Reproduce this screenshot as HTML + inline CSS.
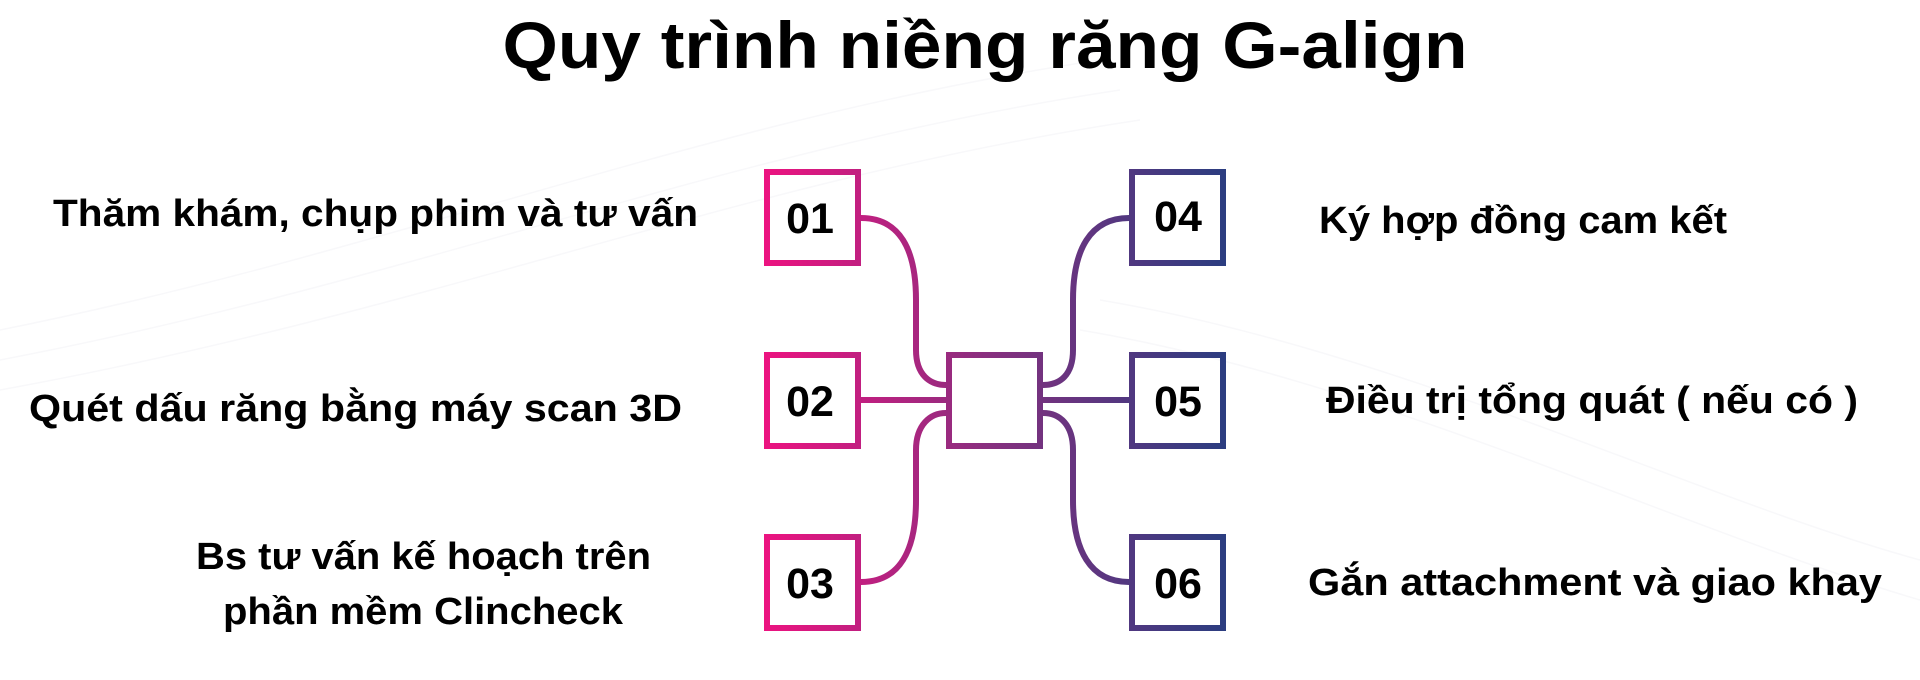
<!DOCTYPE html>
<html><head><meta charset="utf-8"><style>
html,body{margin:0;padding:0;background:#fff;}
svg{display:block;}
text{font-family:"Liberation Sans",sans-serif;font-weight:bold;fill:#000;}
</style></head><body>
<svg width="1920" height="680" viewBox="0 0 1920 680" xmlns="http://www.w3.org/2000/svg">
<defs>
<linearGradient id="g" gradientUnits="userSpaceOnUse" x1="764" y1="0" x2="1226" y2="0">
<stop offset="0" stop-color="#ec1380"/>
<stop offset="0.5" stop-color="#85307f"/>
<stop offset="1" stop-color="#2b3d80"/>
</linearGradient>
</defs>
<g fill="none" stroke="#f8f8fa" stroke-width="1.5">
<path d="M0 330 C400 250 700 120 1100 60"/>
<path d="M0 360 C420 280 720 150 1120 90"/>
<path d="M0 390 C440 310 740 180 1140 120"/>
<path d="M1100 300 C1400 350 1700 500 1920 560"/>
<path d="M1080 330 C1380 380 1680 530 1920 600"/>
</g>
<text x="985" y="68" font-size="66" text-anchor="middle" textLength="965" lengthAdjust="spacingAndGlyphs">Quy trình niềng răng G-align</text>

<g fill="none" stroke="url(#g)" stroke-width="6">
<rect x="767" y="172" width="91" height="91"/>
<rect x="767" y="355" width="91" height="91"/>
<rect x="767" y="537" width="91" height="91"/>
<rect x="949" y="355" width="91" height="91"/>
<rect x="1132" y="172" width="91" height="91"/>
<rect x="1132" y="355" width="91" height="91"/>
<rect x="1132" y="537" width="91" height="91"/>
<path d="M861 218 C900 218 916 250 916 300 L916 350 C916 375 930 385 946 385"/>
<path d="M861 400 L946 400"/>
<path d="M946 413 C930 413 916 425 916 450 L916 500 C916 550 900 582 861 582"/>
<path d="M1129 218 C1090 218 1073 250 1073 300 L1073 350 C1073 375 1060 385 1043 385"/>
<path d="M1043 400 L1129 400"/>
<path d="M1043 413 C1060 413 1073 425 1073 450 L1073 500 C1073 550 1090 582 1129 582"/>
</g>

<g font-size="43" text-anchor="middle">
<text x="810" y="233">01</text>
<text x="810" y="416">02</text>
<text x="810" y="598">03</text>
<text x="1178" y="231">04</text>
<text x="1178" y="416">05</text>
<text x="1178" y="598">06</text>
</g>

<g font-size="38">
<text x="53" y="226" textLength="645" lengthAdjust="spacingAndGlyphs">Thăm khám, chụp phim và tư vấn</text>
<text x="29" y="421" textLength="653" lengthAdjust="spacingAndGlyphs">Quét dấu răng bằng máy scan 3D</text>
<text x="196" y="569" textLength="455" lengthAdjust="spacingAndGlyphs">Bs tư vấn kế hoạch trên</text>
<text x="223" y="624" textLength="400" lengthAdjust="spacingAndGlyphs">phần mềm Clincheck</text>
<text x="1319" y="233" textLength="408" lengthAdjust="spacingAndGlyphs">Ký hợp đồng cam kết</text>
<text x="1326" y="413" textLength="532" lengthAdjust="spacingAndGlyphs">Điều trị tổng quát ( nếu có )</text>
<text x="1308" y="595" textLength="574" lengthAdjust="spacingAndGlyphs">Gắn attachment và giao khay</text>
</g>
</svg>
</body></html>
